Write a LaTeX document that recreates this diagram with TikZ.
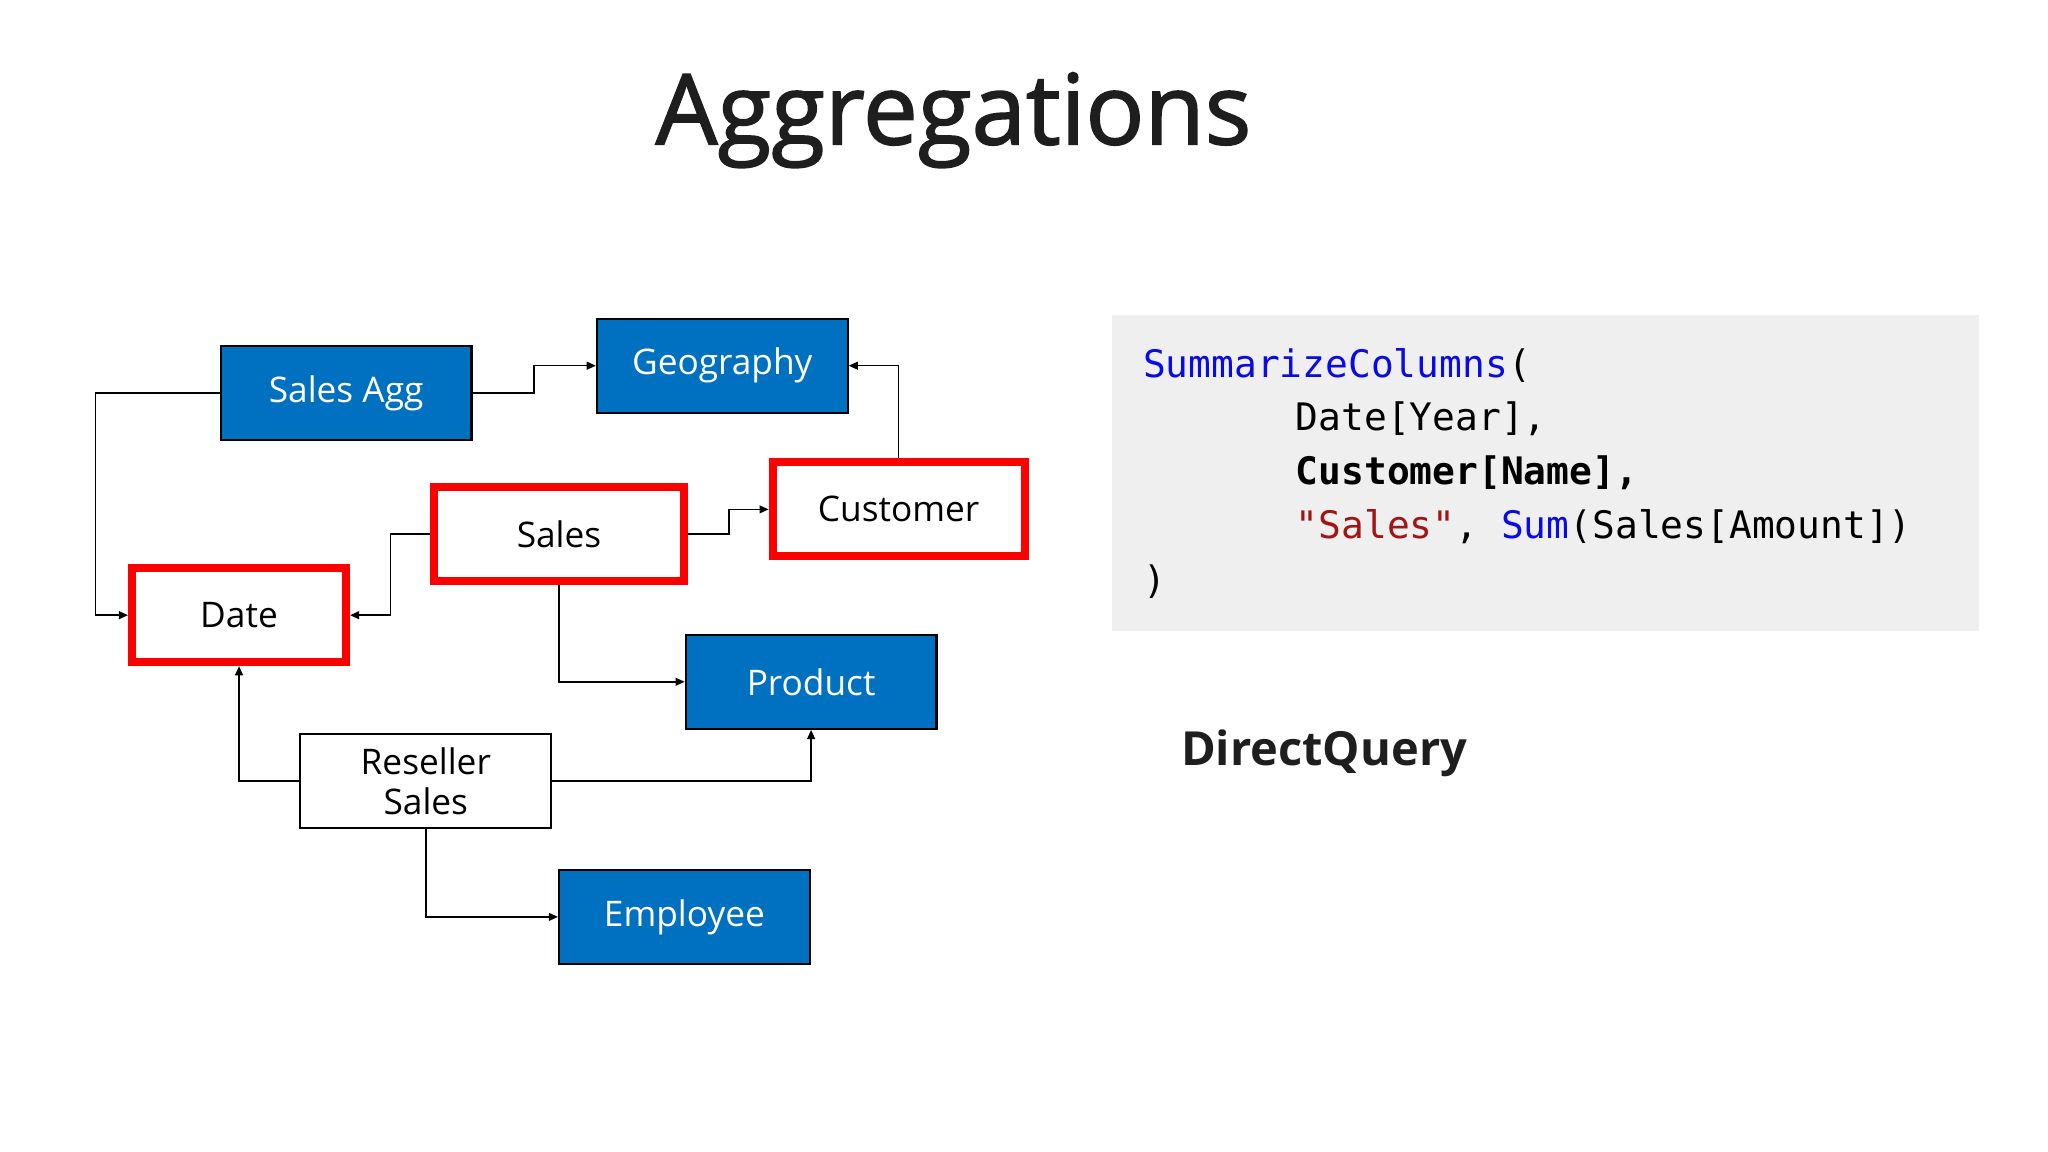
\documentclass[tikz,border=0pt]{standalone}
\usepackage{fontspec}
\setmainfont{Open Sans}
\newfontfamily\codefont{DejaVu Sans Mono}
\newfontfamily\titlefont{Open Sans}[FakeBold=1.6]
\usetikzlibrary{arrows.meta}
\definecolor{pbblue}{RGB}{0,112,192}
\definecolor{codeblue}{RGB}{10,10,230}
\definecolor{codered}{RGB}{163,21,21}
\definecolor{codebg}{RGB}{239,239,239}
\definecolor{ink}{RGB}{30,30,30}
\begin{document}
\begin{tikzpicture}[x=1pt,y=-1pt,
  tbl/.style={draw=black,line width=1.6pt,minimum width=192pt,minimum height=72pt,font=\fontsize{27}{30}\selectfont,inner sep=0pt,align=center},
  blue/.style={tbl,fill=pbblue,text=white},
  sel/.style={draw=red,line width=6pt,fill=white,minimum width=190pt,minimum height=72pt,font=\fontsize{27}{30}\selectfont,inner sep=0pt},
  con/.style={line width=1.2pt,-{Triangle[length=7pt,width=6pt]}}]
\useasboundingbox (0,0) rectangle (1568,882);
\node[text=ink] (title) at (730,92) {\titlefont\fontsize{75}{86}\selectfont Aggregations};
\node[blue] (agg) at (265,301) {Sales Agg};
\node[blue] (geo) at (553,280) {Geography};
\node[sel,minimum width=193pt] (cust) at (688,390) {Customer};
\node[sel,minimum width=192pt] (sales) at (428,409) {Sales};
\node[sel,minimum width=164pt] (date) at (183,471) {Date};
\node[blue] (prod) at (621,522) {Product};
\node[tbl,fill=white,font=\fontsize{27}{31}\selectfont] (res) at (326,598) {Reseller\\Sales};
\node[blue] (emp) at (524,702) {Employee};
\draw[con] (agg.west) -- (73,301) |- (date.west);
\draw[con] (agg.east) -- (409,301) |- (geo.west);
\draw[con] (cust.north) |- (geo.east);
\draw[con] (sales.west) -- (299,409) |- (date.east);
\draw[con] (sales.east) -- (558,409) |- (cust.west);
\draw[con] (sales.south) |- (prod.west);
\draw[con] (res.west) -| (date.south);
\draw[con] (res.east) -| (prod.south);
\draw[con] (res.south) |- (emp.west);
\fill[codebg] (851,241) rectangle (1515,483);
\begin{scope}[every node/.style={anchor=west,inner sep=0pt,font=\codefont\fontsize{29}{32}\selectfont}]
\node (l1) at (875,280) {\textcolor{codeblue}{SummarizeColumns}(};
\node (l2) at (992,321) {Date[Year],};
\node (l3) at (992,362) {\bfseries Customer[Name],};
\node (l4) at (992,403) {\textcolor{codered}{"Sales"}, \textcolor{codeblue}{Sum}(Sales[Amount])};
\node (l5) at (875,445) {)};
\end{scope}
\node[anchor=west,inner sep=0pt,text=ink] (dq) at (904,577) {\fontsize{36}{40}\selectfont\bfseries DirectQuery};
\end{tikzpicture}
\end{document}
